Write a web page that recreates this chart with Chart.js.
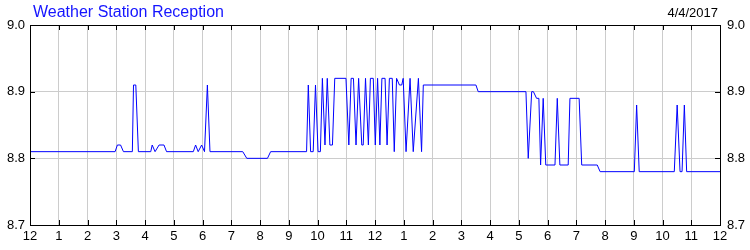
<!DOCTYPE html>
<html>
<head>
<meta charset="utf-8">
<script src="https://cdn.jsdelivr.net/npm/chart.js@4.4.0/dist/chart.umd.min.js"></script>
<style>
	body { margin: 0; background: #fff; }
	#wrap { width: 750px; height: 250px; }
</style>
</head>
<body>
<div id="wrap"><canvas id="lineChart" width="750" height="250"></canvas></div>
<script>
// time of day in hours (0 = midnight, 24 = next midnight)
var hours = [
	0, 2.96, 3.04, 3.15, 3.25, 3.56, 3.60, 3.68, 3.77,
	4.20, 4.25, 4.35, 4.38, 4.49, 4.66, 4.75,
	5.68, 5.76, 5.85, 5.97, 6.07, 6.17, 6.26,
	7.40, 7.54, 8.26, 8.37, 9.62,
	9.68, 9.76, 9.85, 9.93, 10.02, 10.10, 10.17, 10.26, 10.34, 10.43, 10.52, 10.60,
	10.99, 11.09, 11.17, 11.25, 11.34, 11.43, 11.54, 11.59, 11.67, 11.77, 11.84, 11.94,
	12.01, 12.09, 12.17, 12.24, 12.35, 12.42, 12.50, 12.60, 12.67, 12.75, 12.85, 12.93,
	12.98, 13.08, 13.22, 13.33, 13.51, 13.62, 13.68,
	15.51, 15.59, 17.25, 17.33, 17.45, 17.51, 17.62, 17.70, 17.76, 17.85, 17.94,
	18.26, 18.34, 18.43, 18.72, 18.78, 19.10, 19.19, 19.73, 19.83,
	21.02, 21.10, 21.19, 22.41, 22.51, 22.61, 22.68, 22.76, 22.84, 24
];
// received signal level
var reception = [
	8.81, 8.81, 8.82, 8.82, 8.81, 8.81, 8.91, 8.91, 8.81,
	8.81, 8.82, 8.81, 8.81, 8.82, 8.82, 8.81,
	8.81, 8.82, 8.81, 8.82, 8.81, 8.91, 8.81,
	8.81, 8.80, 8.80, 8.81, 8.81,
	8.91, 8.81, 8.81, 8.91, 8.81, 8.81, 8.92, 8.82, 8.92, 8.82, 8.82, 8.92,
	8.92, 8.82, 8.92, 8.92, 8.82, 8.92, 8.82, 8.82, 8.92, 8.82, 8.92, 8.92,
	8.82, 8.92, 8.82, 8.92, 8.92, 8.82, 8.92, 8.92, 8.81, 8.92, 8.91, 8.91,
	8.92, 8.81, 8.92, 8.81, 8.92, 8.81, 8.91,
	8.91, 8.90, 8.90, 8.80, 8.90, 8.90, 8.89, 8.89, 8.79, 8.89, 8.79,
	8.79, 8.89, 8.79, 8.79, 8.89, 8.89, 8.79, 8.79, 8.78,
	8.78, 8.88, 8.78, 8.78, 8.88, 8.78, 8.78, 8.88, 8.78, 8.78
];
var xTicks = [0, 1, 2, 3, 4, 5, 6, 7, 8, 9, 10, 11, 12, 13, 14, 15, 16, 17, 18, 19, 20, 21, 22, 23, 24];
var xLabels = ['12', '1', '2', '3', '4', '5', '6', '7', '8', '9', '10', '11',
	'12', '1', '2', '3', '4', '5', '6', '7', '8', '9', '10', '11', '12'];
var yTicks = [8.7, 8.8, 8.9, 9.0];

var chartTitle = 'Weather Station Reception';
var chartDate = '4/4/2017';

var points = hours.map(function(h, i) {
	return { x: h, y: reception[i] };
});

var font = { family: '"Liberation Sans", Arial, sans-serif', size: 13 };

// frame, inward tick marks and header texts
var framePlugin = {
	id: 'frame',
	afterDraw: function(chart) {
		var ctx = chart.ctx;
		var a = chart.chartArea;
		var xs = chart.scales.x;
		var ys = chart.scales.y;
		ctx.save();
		ctx.strokeStyle = '#000';
		ctx.lineWidth = 1;
		ctx.beginPath();
		xTicks.forEach(function(t) {
			var px = Math.round(xs.getPixelForValue(t)) + 0.5;
			ctx.moveTo(px, a.top);
			ctx.lineTo(px, a.top + 5);
			ctx.moveTo(px, a.bottom);
			ctx.lineTo(px, a.bottom - 5);
		});
		yTicks.forEach(function(t) {
			var py = Math.round(ys.getPixelForValue(t)) + 0.5;
			ctx.moveTo(a.left, py);
			ctx.lineTo(a.left + 5, py);
			ctx.moveTo(a.right, py);
			ctx.lineTo(a.right - 5, py);
		});
		ctx.stroke();
		ctx.strokeRect(Math.round(a.left) + 0.5, Math.round(a.top) + 0.5,
			Math.round(a.right - a.left), Math.round(a.bottom - a.top));

		ctx.textBaseline = 'alphabetic';
		ctx.font = '16px "Liberation Sans", Arial, sans-serif';
		ctx.fillStyle = '#1414ff';
		ctx.textAlign = 'left';
		ctx.fillText(chartTitle, 33, 17);
		ctx.font = '13px "Liberation Sans", Arial, sans-serif';
		ctx.fillStyle = '#000';
		ctx.textAlign = 'right';
		ctx.fillText(chartDate, 718, 17);
		ctx.restore();
	}
};

var lineChart = new Chart(document.getElementById('lineChart').getContext('2d'), {
	type: 'line',
	data: {
		datasets: [{
			data: points,
			borderColor: '#0000ff',
			borderWidth: 1,
			pointRadius: 0,
			tension: 0,
			fill: false
		}]
	},
	options: {
		responsive: false,
		animation: false,
		layout: { padding: { top: 25, left: 0, right: 0, bottom: 0 } },
		plugins: {
			legend: { display: false },
			tooltip: { enabled: false },
			title: { display: false }
		},
		scales: {
			x: {
				type: 'linear',
				position: 'bottom',
				min: 0,
				max: 24,
				afterBuildTicks: function(axis) {
					axis.ticks = xTicks.map(function(v) { return { value: v }; });
				},
				afterFit: function(axis) { axis.height = 25; },
				ticks: {
					autoSkip: false,
					maxRotation: 0,
					padding: 4,
					color: '#000',
					font: font,
					callback: function(v) { return xLabels[xTicks.indexOf(v)]; }
				},
				grid: { color: '#cccccc', drawTicks: false },
				border: { display: false }
			},
			y: {
				position: 'left',
				min: 8.7,
				max: 9.0,
				afterBuildTicks: function(axis) {
					axis.ticks = yTicks.map(function(v) { return { value: v }; });
				},
				afterFit: function(axis) { axis.width = 30; },
				ticks: {
					padding: 5,
					color: '#000',
					font: font,
					callback: function(v) { return v.toFixed(1); }
				},
				grid: { color: '#cccccc', drawTicks: false },
				border: { display: false }
			},
			y2: {
				position: 'right',
				min: 8.7,
				max: 9.0,
				afterBuildTicks: function(axis) {
					axis.ticks = yTicks.map(function(v) { return { value: v }; });
				},
				afterFit: function(axis) { axis.width = 30; },
				ticks: {
					padding: 7,
					color: '#000',
					font: font,
					callback: function(v) { return v.toFixed(1); }
				},
				grid: { display: false, drawTicks: false },
				border: { display: false }
			}
		}
	},
	plugins: [framePlugin]
});
</script>
</body>
</html>
